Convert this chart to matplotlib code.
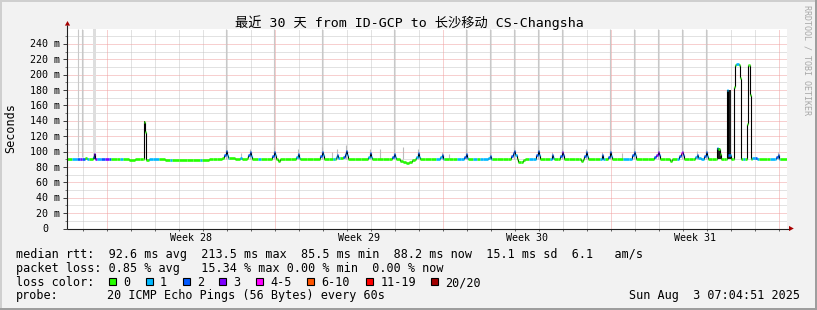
import matplotlib
matplotlib.use("Agg")
import matplotlib.pyplot as plt
import matplotlib.transforms as mtransforms
from matplotlib.collections import LineCollection
from matplotlib.patches import Rectangle, Polygon

W, H, DPI = 817, 310, 100
MONO = "DejaVu Sans Mono"
TITLE_FAMILY = ["DejaVu Sans Mono", "Noto Sans CJK SC"]

# ---------------- text ----------------
title = "最近 30 天 from ID-GCP to 长沙移动 CS-Changsha"
y_label = "Seconds"
week_labels = ["Week 28", "Week 29", "Week 30", "Week 31"]
week_centers_h = [124, 292, 460, 628]          # hours since start of the 30-day window
week_lines_h = [40, 208, 376, 544, 712]
day_lines_h = [16 + 24 * k for k in range(30)]
y_major = [0, 20, 40, 60, 80, 100, 120, 140, 160, 180, 200, 220, 240]
y_minor = [10, 30, 50, 70, 90, 110, 130, 150, 170, 190, 210, 230, 250]
y_labels = ["0", "20 m", "40 m", "60 m", "80 m", "100 m", "120 m", "140 m",
            "160 m", "180 m", "200 m", "220 m", "240 m"]

stats_line1 = "median rtt:  92.6 ms avg  213.5 ms max  85.5 ms min  88.2 ms now  15.1 ms sd  6.1   am/s"
stats_line2 = "packet loss: 0.85 % avg   15.34 % max 0.00 % min  0.00 % now"
loss_title = "loss color:"
loss_labels = ["0", "1", "2", "3", "4-5", "6-10", "11-19", "20/20"]
loss_colors = ["#26ff00", "#00b8ff", "#0059ff", "#7e00ff", "#ff00ff", "#ff5500", "#ff0000", "#a10000"]
probe_label = "probe:"
probe_text = "20 ICMP Echo Pings (56 Bytes) every 60s"
date_text = "Sun Aug  3 07:04:51 2025"
credit = "RRDTOOL / TOBI OETIKER"

# ---------------- median rtt (ms) per hour, with loss class ----------------
med_h = [
    0, 5, 10, 13, 15, 18, 20, 22, 26, 27, 28,
    30, 34, 38, 42, 44, 50, 53, 56, 62, 68, 73, 76,
    77, 78, 79, 82, 86, 92, 98, 103, 105, 112, 120, 126, 133, 135, 142,
    146, 150, 155, 157, 159, 160, 161, 162, 168, 173, 175, 180, 181, 183, 184, 185,
    191, 194, 200, 205, 207, 208, 209, 211, 213, 218, 224, 229, 231, 232, 233,
    240, 246, 253, 255, 256, 257, 262, 266, 268, 269, 270, 271, 273, 276, 278, 279, 280, 281,
    288, 294, 301, 303, 304, 305, 310, 316, 322, 325, 327, 328, 329,
    333, 336, 339, 342, 345, 348, 349, 351, 352, 353,
    358, 364, 369, 373, 375, 376, 377, 382, 386, 390, 394, 397, 399, 400, 401,
    406, 410, 413, 416, 421, 423, 424, 425, 430, 436, 441, 444, 446, 447, 448, 450, 451, 454, 456, 458,
    462, 466, 469, 471, 472, 473, 478, 483, 485, 486, 487, 491, 493, 495, 496, 497,
    502, 508, 512, 514, 516, 517, 519, 520, 521, 528, 533, 535, 536, 538, 541, 543, 544, 545,
    550, 556, 562, 565, 567, 568, 569, 575, 581, 587, 589, 591, 592, 593,
    598, 603, 605, 610, 612, 614, 615, 616, 617, 622, 626, 628, 630, 631, 634, 637, 639, 640, 641, 645,
    649, 650, 651, 653, 654, 657, 659, 660, 661, 663, 664, 666,
    667, 668, 669, 672, 673, 674, 676, 678, 680, 681, 682, 683, 684,
    685, 688, 690, 692, 700, 703, 708, 709, 711, 712, 713,
]
med_v = [
    90.4, 89.8, 90.4, 90.8, 90.2, 91.5, 90.4, 90.4, 93, 97, 91,
    90.4, 90.0, 90.0, 90.4, 89.8, 90.0, 90.8, 90.4, 89.5, 90.0, 90.0, 90.4,
    138, 125, 89.5, 90.0, 90.4, 90.0, 89.5, 89.5, 89.3, 89.0, 89.5, 89.0, 89.5, 89.5, 90.0,
    90.5, 91.0, 91.5, 95, 101, 96, 92, 91.5, 91.0, 91.5, 91.0, 91.5, 95, 100, 94, 91,
    91, 91, 91, 94, 100, 96, 91, 88, 90, 91, 91, 93, 97, 92, 91,
    91, 91, 94, 100, 95, 91, 91, 91, 91, 93, 96, 92, 92, 93, 97, 101, 96, 91,
    91, 91, 93, 98, 93, 91, 90.5, 90.5, 90.5, 93, 97, 93, 90,
    88, 86, 85.5, 86, 89, 90, 93, 98, 93, 90.5,
    90.5, 90.5, 91, 93, 95, 91, 90.5, 90.5, 90.5, 90.5, 90.5, 93, 97, 92, 90.5,
    90.5, 90.5, 90.5, 90.5, 92, 94, 91, 90.5, 90.5, 90.5, 91, 94, 98, 101, 96, 90, 87, 87, 89, 90.5,
    90.5, 91, 95, 101, 95, 91, 90.5, 91, 95, 92, 90.5, 90.5, 94, 100, 95, 91,
    90.5, 90.5, 90, 88, 90.5, 94, 99, 94, 91, 90.5, 91, 95, 91, 90.5, 93, 99, 94, 91,
    90.5, 90.5, 90.5, 95, 100, 95, 90.5, 90.5, 90.5, 93, 95, 100, 95, 90.5,
    90.5, 88, 90.5, 90.5, 94, 98, 100, 95, 91, 90.5, 90.5, 93, 96, 92, 91, 94, 99, 94, 91, 90.5,
    90.5, 105, 104, 97, 90.5, 90.5, 91, 180, 96, 96, 90.5, 90.5,
    184, 213, 213.5, 213, 196, 90, 90, 90, 136, 212, 213, 174, 90,
    92, 92, 91, 90.5, 90, 90, 91, 93, 96, 91, 90,
]
med_c = [
    0, 1, 2, 3, 2, 0, 1, 0, 2, 3, 3,
    1, 2, 3, 2, 0, 0, 1, 0, 0, 0, 0, 0,
    0, 0, 0, 1, 1, 0, 0, 1, 0, 0, 0, 0, 1, 0, 0,
    0, 0, 0, 2, 2, 1, 1, 0, 0, 1, 0, 0, 2, 2, 1, 0,
    1, 0, 0, 2, 2, 1, 0, 0, 0, 0, 0, 1, 2, 1, 0,
    0, 0, 2, 2, 1, 0, 0, 1, 0, 1, 2, 1, 0, 2, 2, 2, 1, 0,
    0, 0, 1, 2, 1, 0, 0, 0, 0, 2, 2, 1, 0,
    0, 0, 0, 0, 0, 0, 1, 2, 1, 0,
    0, 0, 1, 1, 2, 1, 0, 0, 0, 1, 1, 2, 2, 1, 0,
    1, 0, 1, 1, 1, 2, 1, 0, 0, 0, 0, 2, 2, 2, 1, 0, 0, 0, 0, 0,
    1, 1, 2, 2, 1, 0, 0, 1, 2, 1, 0, 0, 2, 3, 2, 0,
    0, 0, 0, 0, 0, 2, 2, 1, 0, 0, 1, 2, 1, 0, 2, 2, 1, 0,
    0, 1, 1, 2, 2, 1, 0, 0, 0, 2, 3, 3, 2, 0,
    0, 0, 0, 1, 2, 4, 3, 2, 0, 0, 0, 1, 2, 1, 1, 2, 2, 1, 0, 0,
    0, 1, 0, 0, 0, 0, 0, 1, 2, 1, 0, 0,
    0, 0, 1, 0, 0, 0, 1, 0, 0, 0, 0, 0, 0,
    1, 2, 1, 0, 0, 1, 1, 2, 2, 1, 0,
]
assert len(med_h) == len(med_v) == len(med_c)

# dense dark smoke blocks (hour start, hour end, top ms)
dark_h0 = [26.5, 76.5, 649.5, 652.5, 659.5]
dark_h1 = [28.5, 78.0, 652.5, 654.0, 663.5]
dark_top = [97, 140, 105, 97, 180]
dark_base = 90

# partial smoke above the daily peaks (hour, top ms)
smoke_h = [27, 159, 174, 183, 207, 231, 255, 265, 270, 279, 303, 313, 327, 336, 351, 375, 382,
           399, 423, 447, 471, 485, 495, 519, 535, 543, 555, 567, 591, 615, 630, 639, 711]
smoke_top = [100, 108, 98, 104, 106, 103, 106, 100, 103, 108, 104, 104, 104, 106, 104, 99, 97,
             103, 100, 106, 107, 99, 104, 104, 99, 104, 98, 105, 106, 113, 101, 104, 100]
# smoke reaching the top of the graph (timeouts)
smoke_full_h = [11, 15, 159, 207, 255, 327, 399, 423, 447, 471, 495, 543, 567, 591, 615, 639]
smoke_band = (25.7, 29.0)

# ---------------- colours ----------------
BG = "#f2f2f2"
GRID_MINOR = "#c6c6c6"
GRID_MAJOR = "#f0a0a0"
AXIS = "#202020"
ARROW = "#a80000"

fig = plt.figure(figsize=(W / DPI, H / DPI), dpi=DPI, facecolor=BG)
ax = fig.add_axes([67 / W, (H - 228.5) / H, 720 / W, 200 / H])
ax.set_facecolor("white")
ax.set_xlim(0, 720)
ax.set_ylim(0, 260)
for s in ax.spines.values():
    s.set_visible(False)

dot = (0, (1, 1))
for v in y_minor:
    ax.axhline(v, color=GRID_MINOR, lw=0.72, ls=dot, zorder=0.6)
for v in y_major[1:]:
    ax.axhline(v, color=GRID_MAJOR, lw=0.72, ls=dot, zorder=0.7)
for h in day_lines_h:
    if h not in week_lines_h:
        ax.axvline(h, color=GRID_MINOR, lw=0.72, ls=dot, zorder=0.6)
for h in week_lines_h:
    ax.axvline(h, color=GRID_MAJOR, lw=0.72, ls=dot, zorder=0.7)

# smoke
ax.add_patch(Rectangle((smoke_band[0], 91), smoke_band[1] - smoke_band[0], 169,
                       color="#dedede", lw=0, zorder=1))
ax.vlines(smoke_full_h, 93, 260, colors="#c8c8c8", lw=0.8, zorder=1.1)
ax.vlines(smoke_h, 91, smoke_top, colors="#bcbcbc", lw=0.8, zorder=1.2)
for h0, h1, top in zip(dark_h0, dark_h1, dark_top):
    ax.add_patch(Rectangle((h0, dark_base), h1 - h0, top - dark_base,
                           color="#1c1c1c", lw=0, zorder=2))

# median line: black connectors + loss-coloured steps
n = len(med_h)
conn = [[(med_h[i], med_v[i - 1]), (med_h[i], med_v[i])] for i in range(1, n)]
ax.add_collection(LineCollection(conn, colors="#000000", linewidths=0.8,
                                 capstyle="butt", zorder=3))
segs, cols = [], []
for i in range(n):
    h1 = med_h[i + 1] if i + 1 < n else 720
    segs.append([(med_h[i], med_v[i]), (h1, med_v[i])])
    cols.append(loss_colors[med_c[i]])
ax.add_collection(LineCollection(segs, colors=cols, linewidths=1.9,
                                 capstyle="butt", zorder=4))

# ticks
ax.set_yticks(y_major)
ax.set_yticks(y_minor, minor=True)
ax.set_xticks(day_lines_h)
ax.tick_params(axis="y", which="major", length=2.6, width=0.72, color="#404040",
               direction="out", labelleft=False)
ax.tick_params(axis="y", which="minor", length=1.3, width=0.72, color="#808080",
               direction="out", labelleft=False)
ax.tick_params(axis="x", which="major", length=1.5, width=0.72, color="#606060",
               direction="out", labelbottom=False)

ytrans = mtransforms.blended_transform_factory(ax.transAxes, ax.transData)
for v, lab in zip(y_major, y_labels):
    dx = -6.5 if lab != "0" else -18.5
    t = mtransforms.offset_copy(ytrans, fig=fig, x=dx, y=-3.6, units="dots")
    ax.text(0, v, lab, transform=t, ha="right", va="baseline",
            fontsize=7.2, family=MONO, color="#000000")
xtrans = mtransforms.blended_transform_factory(ax.transData, ax.transAxes)
xt = mtransforms.offset_copy(xtrans, fig=fig, x=0, y=-12.5, units="dots")
for h, lab in zip(week_centers_h, week_labels):
    ax.text(h, 0, lab, transform=xt, ha="center", va="baseline",
            fontsize=7.2, family=MONO, color="#000000")

# ---------------- overlay in pixel space ----------------
ov = fig.add_axes([0, 0, 1, 1])
ov.set_xlim(0, W)
ov.set_ylim(H, 0)
ov.axis("off")
ov.patch.set_alpha(0)
ov.set_zorder(10)

# frame shading
ov.add_patch(Rectangle((0, 0), W, 2, color="#cfcfcf", lw=0))
ov.add_patch(Rectangle((0, 0), 2, H, color="#cfcfcf", lw=0))
ov.add_patch(Rectangle((0, H - 2), W, 2, color="#9e9e9e", lw=0))
ov.add_patch(Rectangle((W - 2, 0), 2, H, color="#9e9e9e", lw=0))

# axes with arrows
ov.plot([67.5, 67.5], [25, 228.5], color=AXIS, lw=0.8, solid_capstyle="butt")
ov.plot([67, 789], [228.5, 228.5], color=AXIS, lw=0.8, solid_capstyle="butt")
ov.add_patch(Polygon([(64.9, 25.6), (70.1, 25.6), (67.5, 21.0)], closed=True, color=ARROW, lw=0))
ov.add_patch(Polygon([(789, 225.9), (789, 231.1), (793.8, 228.5)], closed=True, color=ARROW, lw=0))

ov.text(409, 26.5, title, ha="center", va="baseline", fontsize=9.5,
        family=TITLE_FAMILY, color="#000000")
ov.text(10.5, 128, y_label, rotation=90, ha="center", va="center",
        fontsize=8.5, family=MONO, color="#000000")
ov.text(807, 60, credit, rotation=270, ha="center", va="center",
        fontsize=6, family=MONO, color="#a8a8a8")

LX = 16
ov.text(LX, 258, stats_line1, ha="left", va="baseline", fontsize=8.5, family=MONO)
ov.text(LX, 272, stats_line2, ha="left", va="baseline", fontsize=8.5, family=MONO)
ov.text(LX, 286, loss_title, ha="left", va="baseline", fontsize=8.5, family=MONO)
box_x = [109, 145.7, 182.7, 219.3, 256, 306.7, 366, 430.7]
for bx, col, lab in zip(box_x, loss_colors, loss_labels):
    ov.add_patch(Rectangle((bx, 278.3), 7, 7, facecolor=col, edgecolor="#000000", lw=0.8))
    ov.text(bx + 14.3, 286, lab, ha="left", va="baseline", fontsize=8.5, family=MONO)
ov.text(LX, 299.5, probe_label, ha="left", va="baseline", fontsize=8.5, family=MONO)
ov.text(107.3, 299.5, probe_text, ha="left", va="baseline", fontsize=8.5, family=MONO)
ov.text(800, 299.5, date_text, ha="right", va="baseline", fontsize=8.5, family=MONO)

fig.savefig("out.png", dpi=DPI, facecolor=fig.get_facecolor())
